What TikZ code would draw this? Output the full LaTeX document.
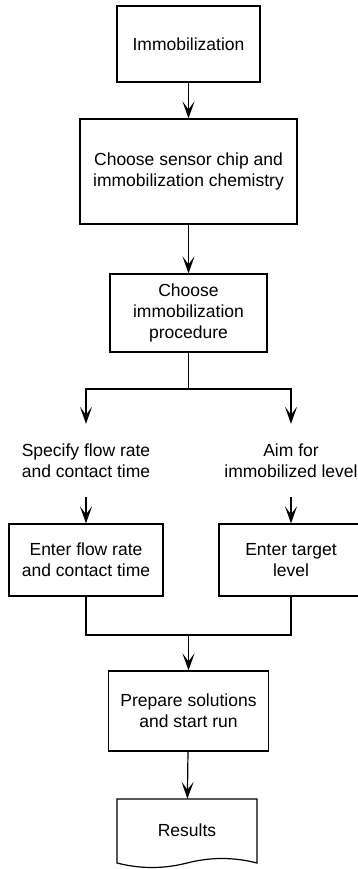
\documentclass[tikz,border=0pt]{standalone}
\usepackage{fontspec}
\setmainfont{Liberation Sans}
\usetikzlibrary{arrows.meta}
\begin{document}
\begin{tikzpicture}[x=1pt,y=-1pt,
  every node/.style={font=\fontsize{17.5}{21.3}\selectfont, align=center, inner sep=0pt},
  proc/.style={draw, line width=1.2pt, rectangle},
  lbl/.style={rectangle},
  conn/.style={line width=1.2pt},
  arr/.style={line width=1.2pt, -{Stealth[length=17pt, width=12pt, inset=8pt]}}
]
\useasboundingbox (0,0) rectangle (358,869);

\node[proc, minimum width=143pt, minimum height=76pt] (n1) at (188.5,44) {Immobilization};
\node[proc, minimum width=217pt, minimum height=105pt] (n2) at (188.5,171.5) {Choose sensor chip and\\immobilization chemistry};
\node[proc, minimum width=157pt, minimum height=78pt] (n3) at (188.5,313) {Choose\\immobilization\\procedure};
\coordinate (split) at (188.5,389);
\node[lbl, minimum height=73pt] (l1) at (86,460.5) {Specify flow rate\\and contact time};
\node[lbl, minimum height=73pt] (r1) at (291,460.5) {Aim for\\immobilized level};
\node[proc, minimum width=154pt, minimum height=72pt] (l2) at (86,560) {Enter flow rate\\and contact time};
\node[proc, minimum width=144pt, minimum height=72pt] (r2) at (291,560) {Enter target\\level};
\coordinate (merge) at (188.5,635);
\node[proc, minimum width=160pt, minimum height=80pt] (n5) at (188.5,711) {Prepare solutions\\and start run};
\node[lbl, minimum width=140pt, minimum height=62pt] (n6) at (187,830) {Results};

\draw[conn] (117,799) -- (257,799) -- (257,863)
  .. controls (233.67,857) and (210.33,857) .. (187,863)
  .. controls (163.67,869) and (140.33,869) .. (117,863) -- cycle;

\draw[arr] (n1) -- (n2);
\draw[arr] (n2) -- (n3);
\draw[conn] (n3) -- (split);
\draw[arr] (split) -| (l1.north);
\draw[arr] (split) -| (r1.north);
\draw[arr] (l1) -- (l2);
\draw[arr] (r1) -- (r2);
\draw[conn] (l2.south) |- (merge) -| (r2.south);
\draw[arr] (merge) -- (n5);
\draw[arr] (n5) -- (n6);
\end{tikzpicture}
\end{document}
